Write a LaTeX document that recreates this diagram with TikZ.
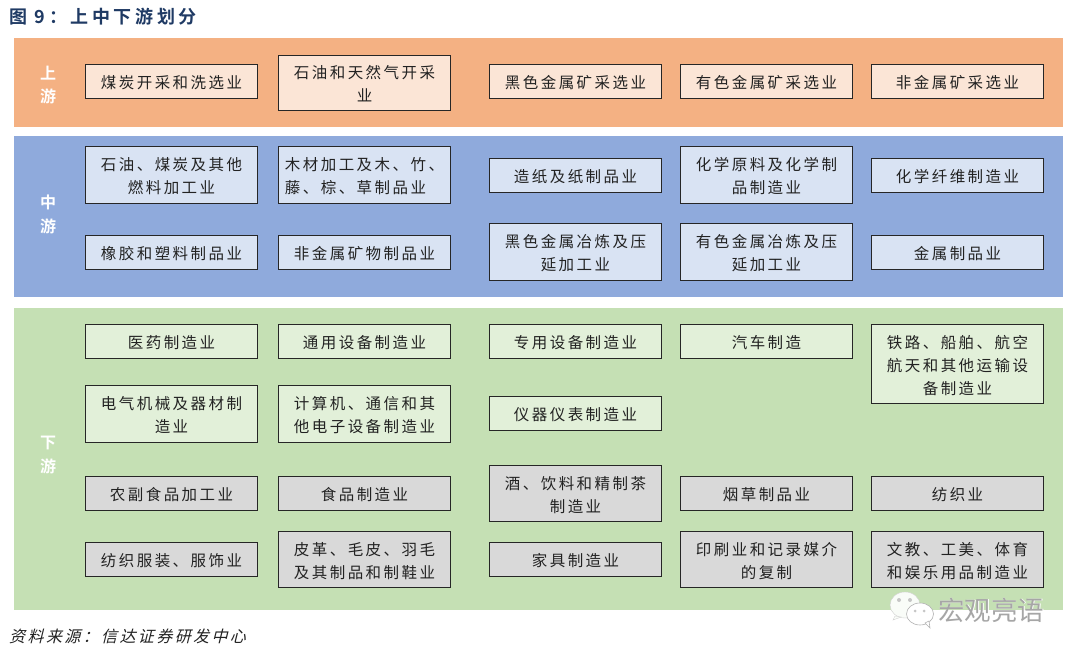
\documentclass[tikz,border=0pt]{standalone}
\usepackage{fontspec}
\setmainfont{Noto Sans CJK SC}
\newfontfamily\boxfont[LetterSpace=16]{Noto Sans CJK SC}
\newfontfamily\labfont{Noto Sans CJK SC Bold}
\newfontfamily\titlefont[LetterSpace=20]{Noto Sans CJK SC Bold}
\newfontfamily\srcfont[FakeSlant=0.25,LetterSpace=15]{Noto Sans CJK SC}
\newfontfamily\markfont{Noto Sans CJK SC}
\definecolor{bandO}{HTML}{F4B183}
\definecolor{bandB}{HTML}{8FAADC}
\definecolor{bandG}{HTML}{C5E0B4}
\definecolor{fillO}{HTML}{FBE5D6}
\definecolor{fillB}{HTML}{D9E3F3}
\definecolor{fillG}{HTML}{E2F0D9}
\definecolor{fillK}{HTML}{D9D9D9}
\definecolor{titleblue}{HTML}{1F3A64}
\definecolor{inkc}{HTML}{222222}
\tikzset{
  x=1pt,y=-1pt,
  band/.style={fill=#1,draw=none},
  cell/.style={draw=black!85!white,line width=1.6pt,fill=#1,inner sep=0pt,outer sep=0pt,
    text=inkc,font=\fontsize{15.5}{23}\selectfont\boxfont},
  lab/.style={text=white,font=\fontsize{16}{16}\selectfont\labfont,inner sep=0pt},
}
\newcommand{\cellbox}[7]{% name, colour, x0, y0, x1, y1, text
  \node[cell=#2,minimum width=#5pt-#3pt-1pt,minimum height=#6pt-#4pt-1pt,anchor=north west] (#1) at (#3+0.5,#4+0.5) {\raisebox{-2.6pt}[\height][\depth]{\begin{tabular}{@{}c@{}}#7\end{tabular}}};}
\begin{document}
\begin{tikzpicture}
\useasboundingbox (0,0) rectangle (1080,658);
\fill[white] (0,0) rectangle (1080,658);
\node[anchor=west,inner sep=0pt,text=titleblue,font=\fontsize{18}{18}\selectfont\titlefont] (title) at (9,17) {图 9：上中下游划分};
\path[band=bandO] (14,38) rectangle (1063,127);
\path[band=bandB] (14,136) rectangle (1063,297);
\path[band=bandG] (14,308) rectangle (1063,610);
\node[lab] (l1) at (48,73) {上};
\node[lab] (l2) at (48,96) {游};
\node[lab] (l3) at (48,202) {中};
\node[lab] (l4) at (48,226) {游};
\node[lab] (l5) at (48,443) {下};
\node[lab] (l6) at (48,466) {游};
% upstream
\cellbox{a1}{fillO}{85}{64}{258}{99}{煤炭开采和洗选业}
\cellbox{a2}{fillO}{278}{55}{451}{111}{石油和天然气开采\\业}
\cellbox{a3}{fillO}{489}{64}{662}{99}{黑色金属矿采选业}
\cellbox{a4}{fillO}{680}{64}{853}{99}{有色金属矿采选业}
\cellbox{a5}{fillO}{871}{64}{1044}{99}{非金属矿采选业}
% midstream
\cellbox{b1}{fillB}{85}{146}{258}{204}{石油、煤炭及其他\\燃料加工业}
\cellbox{b2}{fillB}{278}{146}{451}{204}{木材加工及木、竹、\\藤、棕、草制品业\hspace*{18pt}}
\cellbox{b3}{fillB}{489}{158}{662}{193}{造纸及纸制品业}
\cellbox{b4}{fillB}{680}{146}{853}{204}{化学原料及化学制\\品制造业}
\cellbox{b5}{fillB}{871}{158}{1044}{193}{化学纤维制造业}
\cellbox{b6}{fillB}{85}{235}{258}{270}{橡胶和塑料制品业}
\cellbox{b7}{fillB}{278}{235}{451}{270}{非金属矿物制品业}
\cellbox{b8}{fillB}{489}{223}{662}{281}{黑色金属冶炼及压\\延加工业}
\cellbox{b9}{fillB}{680}{223}{853}{281}{有色金属冶炼及压\\延加工业}
\cellbox{b10}{fillB}{871}{235}{1044}{270}{金属制品业}
% downstream
\cellbox{c1}{fillG}{85}{324}{258}{359}{医药制造业}
\cellbox{c2}{fillG}{278}{324}{451}{359}{通用设备制造业}
\cellbox{c3}{fillG}{489}{324}{662}{359}{专用设备制造业}
\cellbox{c4}{fillG}{680}{324}{853}{359}{汽车制造}
\cellbox{c5}{fillG}{871}{324}{1044}{404}{铁路、船舶、航空\\航天和其他运输设\\备制造业}
\cellbox{c6}{fillG}{85}{385}{258}{443}{电气机械及器材制\\造业}
\cellbox{c7}{fillG}{278}{385}{451}{443}{计算机、通信和其\\他电子设备制造业}
\cellbox{c8}{fillG}{489}{396}{662}{431}{仪器仪表制造业}
\cellbox{d1}{fillK}{85}{476}{258}{511}{农副食品加工业}
\cellbox{d2}{fillK}{278}{476}{451}{511}{食品制造业}
\cellbox{d3}{fillK}{489}{465}{662}{522}{酒、饮料和精制茶\\制造业}
\cellbox{d4}{fillK}{680}{476}{853}{511}{烟草制品业}
\cellbox{d5}{fillK}{871}{476}{1044}{511}{纺织业}
\cellbox{d6}{fillK}{85}{542}{258}{577}{纺织服装、服饰业}
\cellbox{d7}{fillK}{278}{531}{451}{588}{皮革、毛皮、羽毛\\及其制品和制鞋业}
\cellbox{d8}{fillK}{489}{542}{662}{577}{家具制造业}
\cellbox{d9}{fillK}{680}{531}{853}{588}{印刷业和记录媒介\\的复制}
\cellbox{d10}{fillK}{871}{531}{1044}{588}{文教、工美、体育\\和娱乐用品制造业}
% source
\node[anchor=west,inner sep=0pt,text=inkc,font=\fontsize{16}{16}\selectfont\srcfont] (src) at (9,636) {资料来源：信达证券研发中心};
% watermark
\fill[white!90!bandG,draw=gray!35,line width=.4pt] (905,605) ellipse (15 and 13);
\fill[white!90!bandG,draw=gray!35,line width=.4pt] (895,616) -- (893,620) -- (901,617) -- cycle;
\fill[white,draw=gray!60,line width=.6pt] (920,614) ellipse (13.5 and 11);
\fill[white,draw=gray!60,line width=.6pt] (925,623) -- (930,628) -- (929,621) -- cycle;
\fill[gray!45] (899,600) circle (2) (910,600) circle (2) (915,611) circle (1.5) (924,611) circle (1.5);
\node[anchor=west,inner sep=0pt,text=white,font=\fontsize{26.5}{27}\selectfont\markfont] (wmb) at (938.7,610.7) {宏观亮语};
\node[anchor=west,inner sep=0pt,text=gray!70,font=\fontsize{26.5}{27}\selectfont\markfont] (wm) at (938,610) {宏观亮语};
\end{tikzpicture}
\end{document}
